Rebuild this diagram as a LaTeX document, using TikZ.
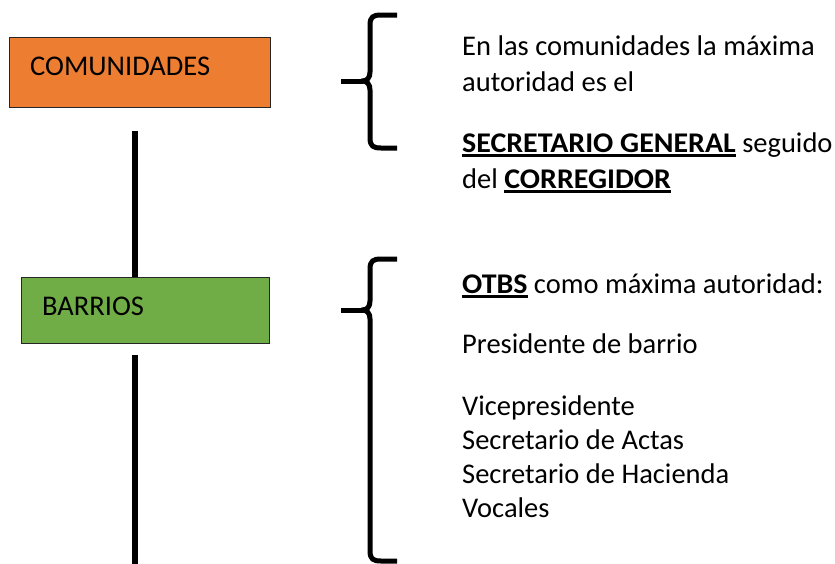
\documentclass[tikz,border=0pt]{standalone}
\usepackage{fontspec}
\setmainfont{Carlito}
\definecolor{comorange}{HTML}{ED7D31}
\definecolor{bargreen}{HTML}{70AD47}
\newcommand\ulbf[1]{\setbox0\hbox{\scalebox{1.05}[1]{\bfseries #1}}\rlap{\vrule height -2.2pt depth 5pt width \wd0}\box0\relax}
\begin{document}
\begin{tikzpicture}[x=1pt,y=-1pt,
  box/.style={draw=black!85, line width=1pt, anchor=north west, inner sep=0pt},
  txt/.style={font=\fontsize{28.5}{34}\selectfont, inner sep=0pt, anchor=base west},
  vline/.style={line width=6pt},
  bracestyle/.style={line width=5pt, line join=round}]
\useasboundingbox (0,0) rectangle (835,563);
% boxes
\node[box, fill=comorange, minimum width=261pt, minimum height=70pt] (com) at (9,37) {};
\node[txt] (comtxt) at (30,75) {COMUNIDADES};
\node[box, fill=bargreen, minimum width=248pt, minimum height=66pt] (bar) at (21,277) {};
\node[txt] (bartxt) at (42,315) {BARRIOS};
% vertical connectors
\coordinate (l1top) at (135,131);
\draw[vline] (l1top) -- (l1top |- bar.north);
\coordinate (l2top) at (135,355);
\coordinate (l2bot) at (135,566);
\draw[vline] (l2top) -- (l2bot);
% brace 1
\draw[bracestyle] (397,15) -- (381,15) .. controls (373,15) and (370,17) .. (370,25) -- (370,72) .. controls (370,78) and (367,81) .. (362,81) .. controls (367,81) and (370,84) .. (370,90) -- (370,138) .. controls (370,146) and (373,148) .. (381,148) -- (397,148);
\draw[bracestyle] (341,81) -- (363,81);
% brace 2
\draw[bracestyle] (397,259) -- (381,259) .. controls (373,259) and (370,261) .. (370,269) -- (370,301) .. controls (370,307) and (367,310) .. (362,310) .. controls (367,310) and (370,313) .. (370,319) -- (370,551) .. controls (370,559) and (373,561) .. (381,561) -- (397,561);
\draw[bracestyle] (341,310) -- (363,310);
% text block 1
\node[txt] (t1) at (462,55) {En las comunidades la máxima};
\node[txt] (t2) at (462,91) {autoridad es el};
\node[txt] (t3) at (462,152) {\ulbf{SECRETARIO GENERAL} seguido};
\node[txt] (t4) at (462,188) {del \ulbf{CORREGIDOR}};
% text block 2
\node[txt] (b1) at (462,293) {\ulbf{OTBS} como máxima autoridad:};
\node[txt] (b2) at (462,353) {Presidente de barrio};
\node[txt] (b3) at (462,415) {Vicepresidente};
\node[txt] (b4) at (462,449) {Secretario de Actas};
\node[txt] (b5) at (462,483) {Secretario de Hacienda};
\node[txt] (b6) at (462,517) {Vocales};
\end{tikzpicture}
\end{document}
